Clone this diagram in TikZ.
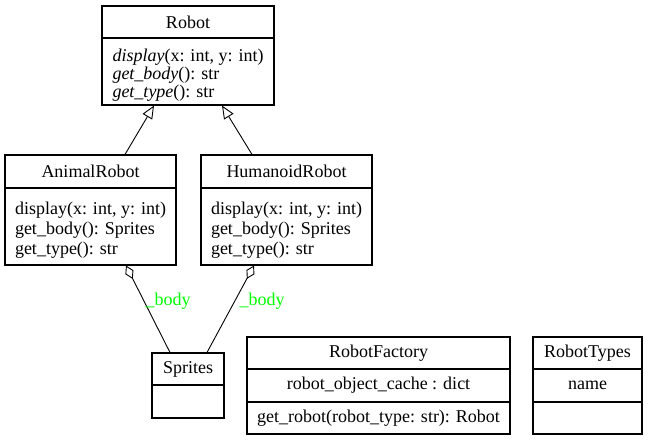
\documentclass[tikz,border=0pt]{standalone}
\usepackage{fontspec}
\setmainfont{Liberation Serif}
\usetikzlibrary{arrows.meta}
\newcommand{\topstrut}{\rule{0pt}{20pt}}
\tikzset{
  classbox/.style={draw, line width=1.1pt, inner sep=0pt, align=left,
    font=\fontsize{18}{20}\selectfont},
  inherit/.style={line width=0.9pt, -{Triangle[open, length=13pt, width=11pt]}},
  aggreg/.style={line width=0.9pt, -{Diamond[open, length=15pt, width=9pt]}},
  rolelabel/.style={text=green, font=\fontsize{18}{20}\selectfont}
}
\begin{document}
\begin{tikzpicture}[x=1pt, y=-1pt]
  \useasboundingbox (0,0) rectangle (648,441);
  \node[classbox, minimum width=172pt, minimum height=32pt] (robot) at (188,22) {Robot};
  \node[classbox, minimum width=172pt, minimum height=67pt, font=\fontsize{18}{18.3}\selectfont] (robotm) at (188,71.5)
    {\topstrut\textit{display}(x: int, y: int)\\ \textit{get\_body}(): str\\ \textit{get\_type}(): str};
  \node[classbox, minimum width=171pt, minimum height=33pt] (animal) at (90.5,171.5) {AnimalRobot};
  \node[classbox, minimum width=171pt, minimum height=77pt] (animalm) at (90.5,226.5)
    {\topstrut display(x: int, y: int)\\ get\_body(): Sprites\\ get\_type(): str};
  \node[classbox, minimum width=171pt, minimum height=33pt] (humanoid) at (286.5,171.5) {HumanoidRobot};
  \node[classbox, minimum width=171pt, minimum height=77pt] (humanoidm) at (286.5,226.5)
    {\topstrut display(x: int, y: int)\\ get\_body(): Sprites\\ get\_type(): str};
  \node[classbox, minimum width=72pt, minimum height=32pt] (sprites) at (188,369) {Sprites};
  \node[classbox, minimum width=72pt, minimum height=33pt] (spritesm) at (188,401.5) {};
  \node[classbox, minimum width=263pt, minimum height=32pt] (factory) at (378.5,353) {RobotFactory};
  \node[classbox, minimum width=263pt, minimum height=33pt] (factorya) at (378.5,385.5) {robot\_object\_cache : dict};
  \node[classbox, minimum width=263pt, minimum height=32pt] (factorym) at (378.5,418) {get\_robot(robot\_type: str): Robot};
  \node[classbox, minimum width=109pt, minimum height=32pt] (types) at (587.5,353) {RobotTypes};
  \node[classbox, minimum width=109pt, minimum height=33pt] (typesa) at (587.5,385.5) {name};
  \node[classbox, minimum width=109pt, minimum height=32pt] (typesm) at (587.5,418) {};
  \draw[inherit] ([xshift=34.5pt]animal.north) -- ([xshift=-34pt]robotm.south);
  \draw[inherit] ([xshift=-34.5pt]humanoid.north) -- ([xshift=34pt]robotm.south);
  \draw[aggreg] ([xshift=-18pt]sprites.north) -- ([xshift=35.5pt]animalm.south);
  \draw[aggreg] ([xshift=19pt]sprites.north) -- ([xshift=-32.5pt]humanoidm.south);
  \node[rolelabel] (bodya) at (168,301) {\_body};
  \node[rolelabel] (bodyh) at (262,301) {\_body};
\end{tikzpicture}
\end{document}
